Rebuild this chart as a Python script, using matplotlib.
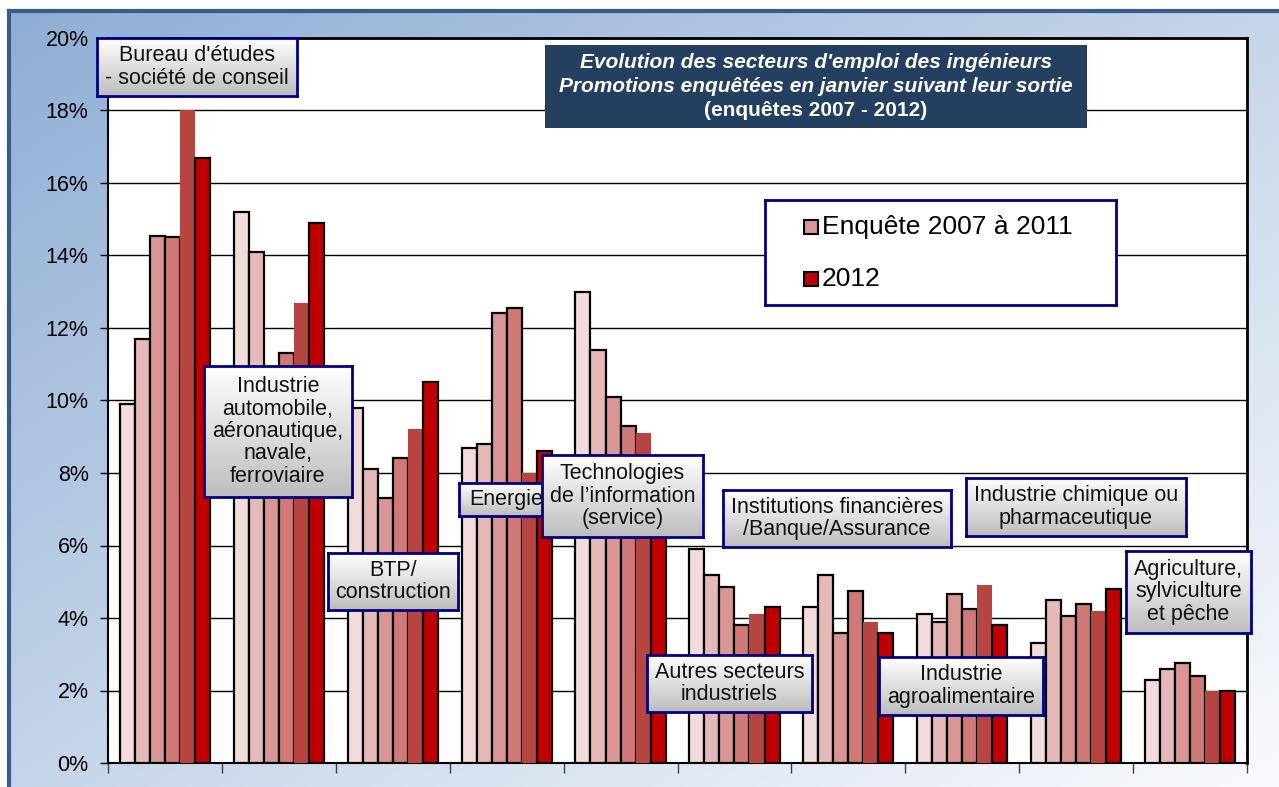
import numpy as np
import matplotlib
import matplotlib.pyplot as plt
from matplotlib.colors import LinearSegmentedColormap
from matplotlib.patches import Rectangle

matplotlib.use("Agg")

plt.rcParams["font.family"] = ["Liberation Sans", "DejaVu Sans"]

# --- data (percent of graduates per sector) ---
years = ["2007", "2008", "2009", "2010", "2011", "2012"]
sectors = [
    "Bureau d'études\n- société de conseil",
    "Industrie\nautomobile,\naéronautique,\nnavale,\nferroviaire",
    "BTP/\nconstruction",
    "Energie",
    "Technologies\nde l\u2019information\n(service)",
    "Autres secteurs\nindustriels",
    "Institutions financières\n/Banque/Assurance",
    "Industrie\nagroalimentaire",
    "Industrie chimique ou\npharmaceutique",
    "Agriculture,\nsylviculture\net pêche",
]
v2007 = [9.9, 15.2, 9.8, 8.7, 13.0, 5.9, 4.3, 4.1, 3.3, 2.3]
v2008 = [11.7, 14.1, 8.1, 8.8, 11.4, 5.2, 5.2, 3.9, 4.5, 2.6]
v2009 = [14.55, 10.8, 7.3, 12.4, 10.1, 4.85, 3.6, 4.65, 4.05, 2.75]
v2010 = [14.5, 11.3, 8.4, 12.55, 9.3, 3.8, 4.75, 4.25, 4.4, 2.4]
v2011 = [18.0, 12.7, 9.2, 8.0, 9.1, 4.1, 3.9, 4.9, 4.2, 2.0]
v2012 = [16.7, 14.9, 10.5, 8.6, 6.9, 4.3, 3.6, 3.8, 4.8, 2.0]
series = [v2007, v2008, v2009, v2010, v2011, v2012]

colors = ["#F2DCDB", "#E6B9B8", "#D99694", "#D07A77", "#B64541", "#C00000"]
legend_labels = ["Enquête 2007 à 2011", "2012"]

W, H = 1279, 787


def px_rect(x0, y0, x1, y1):
    return [x0 / W, 1 - y1 / H, (x1 - x0) / W, (y1 - y0) / H]


fig = plt.figure(figsize=(W / 100, H / 100), dpi=100)

# background frame with diagonal gradient
bg = fig.add_axes(px_rect(9, 11, W + 5, H + 5))
xx, yy = np.meshgrid(np.linspace(0, 1, 200), np.linspace(0, 1, 200))
bg_cmap = LinearSegmentedColormap.from_list("bg", ["#8FAED5", "#C6D5E9", "#FAFBFE"])
bg.imshow((xx + yy) / 2, cmap=bg_cmap, aspect="auto", extent=[0, 1, 0, 1],
          origin="upper", vmin=0, vmax=1)
bg.set_xticks([])
bg.set_yticks([])
for side, sp in bg.spines.items():
    if side in ("left", "top"):
        sp.set_color("#385D8A")
        sp.set_linewidth(3)
    else:
        sp.set_visible(False)

# main plot
ax = fig.add_axes(px_rect(108, 38, 1247, 763))
ax.set_facecolor("white")
n = len(sectors)
x = np.arange(n) + 0.5
bw = 0.132
bars = []
for j, vals in enumerate(series):
    ec = "none" if j == 4 else "black"
    b = ax.bar(x + (j - 2.5) * bw, vals, width=bw, color=colors[j],
               edgecolor=ec, linewidth=1.6, zorder=3)
    bars.append(b)

ax.set_xlim(0, n)
ax.set_ylim(0, 20)
ax.set_yticks(np.arange(0, 21, 2))
ax.set_yticklabels([f"{v}%" for v in range(0, 21, 2)], fontsize=15.5)
ax.set_xticks(np.arange(0, n + 1))
ax.set_xticklabels([])
ax.tick_params(axis="y", direction="out", length=6, width=1, pad=8)
ax.tick_params(axis="x", direction="out", length=7, width=1, color="#404040")
ax.grid(axis="y", color="black", linewidth=1)
ax.set_axisbelow(True)
for side, sp in ax.spines.items():
    sp.set_color("black")
    sp.set_linewidth(2 if side in ("top", "right") else 1.5)

# sector label boxes with grey gradient
box_cmap = LinearSegmentedColormap.from_list("box", ["#FFFFFF", "#BDBDBD"])
grad = np.linspace(0, 1, 100).reshape(-1, 1)
boxes = [
    (97, 38, 297, 96),
    (204, 366, 352, 497),
    (328, 553, 458, 610),
    (459, 483, 553, 516),
    (542, 455, 703, 537),
    (647, 655, 812, 712),
    (723, 490, 951, 547),
    (879, 657, 1043, 715),
    (966, 478, 1186, 536),
    (1126, 551, 1251, 633),
]
order = [0, 1, 2, 3, 4, 6, 5, 7, 8, 9]
for i in order:
    bax = fig.add_axes(px_rect(*boxes[i]))
    bax.imshow(grad, cmap=box_cmap, aspect="auto", extent=[0, 1, 0, 1],
               origin="upper", vmin=0, vmax=1)
    bax.set_xticks([])
    bax.set_yticks([])
    for sp in bax.spines.values():
        sp.set_color("#000080")
        sp.set_linewidth(2)
    bax.text(0.5, 0.5, sectors[i], ha="center", va="center",
             fontsize=15.5, linespacing=1.08, color="#111111",
             transform=bax.transAxes)

# title box
tax = fig.add_axes(px_rect(545, 45, 1087, 128))
tax.set_facecolor("#243F60")
tax.set_xticks([])
tax.set_yticks([])
for sp in tax.spines.values():
    sp.set_visible(False)
tax.text(0.5, 0.79, "Evolution des secteurs d'emploi des ingénieurs",
         ha="center", va="center", color="white", fontsize=15,
         fontweight="bold", style="italic", transform=tax.transAxes)
tax.text(0.5, 0.5, "Promotions enquêtées en janvier suivant leur sortie",
         ha="center", va="center", color="white", fontsize=15,
         fontweight="bold", style="italic", transform=tax.transAxes)
tax.text(0.5, 0.21, "(enquêtes 2007 - 2012)",
         ha="center", va="center", color="white", fontsize=15,
         fontweight="bold", transform=tax.transAxes)

# legend box
lax = fig.add_axes(px_rect(765, 200, 1116, 305))
lax.set_xlim(765, 1116)
lax.set_ylim(305, 200)
lax.set_xticks([])
lax.set_yticks([])
lax.set_facecolor("white")
for sp in lax.spines.values():
    sp.set_color("#000080")
    sp.set_linewidth(2)
for yc, lab, col in [(227, legend_labels[0], colors[2]),
                     (279, legend_labels[1], colors[5])]:
    lax.add_patch(Rectangle((804, yc - 7), 14, 14, facecolor=col,
                            edgecolor="black", linewidth=1.5))
    lax.text(822, yc, lab, va="center", ha="left", fontsize=19)

fig.savefig("out.png", dpi=100)
